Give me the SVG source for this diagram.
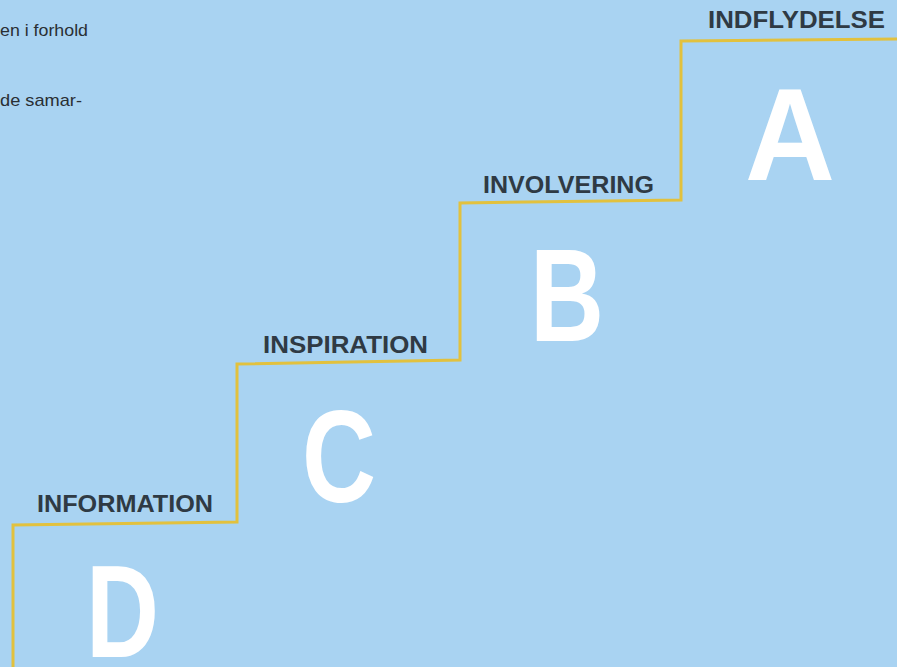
<svg xmlns="http://www.w3.org/2000/svg" width="897" height="667" viewBox="0 0 897 667">
<style>
.bg{fill:#a9d3f2}
.lbl{font-family:"Liberation Sans","DejaVu Sans",sans-serif;font-weight:bold;font-size:24px;fill:#2f3a44}
.big{font-family:"Liberation Sans","DejaVu Sans",sans-serif;font-weight:bold;font-size:132px;fill:#ffffff}
.body{font-family:"Liberation Sans","DejaVu Sans",sans-serif;font-size:17px;fill:#2a2f34}
.stair{fill:none;stroke:#e2c13e;stroke-width:3}
</style>
<rect class="bg" x="0" y="0" width="897" height="667"/>
<g id="bodytext">
<text class="body" x="0" y="36" textLength="88" lengthAdjust="spacingAndGlyphs">en i forhold</text>
<text class="body" x="0" y="106" textLength="82" lengthAdjust="spacingAndGlyphs">de samar-</text>
</g>
<g id="connectors">
<polyline class="stair" points="13,667 13,525 237,522 237,364 460,360 460,203 681,200 681,41 897,39"/>
</g>
<g id="step-d">
<text class="lbl" x="37" y="512" textLength="176" lengthAdjust="spacingAndGlyphs">INFORMATION</text>
<text class="big" x="86" y="657" textLength="73" lengthAdjust="spacingAndGlyphs">D</text>
</g>
<g id="step-c">
<text class="lbl" x="263" y="353" textLength="165" lengthAdjust="spacingAndGlyphs">INSPIRATION</text>
<text class="big" x="302" y="502" textLength="74" lengthAdjust="spacingAndGlyphs">C</text>
</g>
<g id="step-b">
<text class="lbl" x="483" y="193" textLength="171" lengthAdjust="spacingAndGlyphs">INVOLVERING</text>
<text class="big" x="530" y="341" textLength="74" lengthAdjust="spacingAndGlyphs">B</text>
</g>
<g id="step-a">
<text class="lbl" x="708" y="28" textLength="177" lengthAdjust="spacingAndGlyphs">INDFLYDELSE</text>
<text class="big" x="745" y="180" textLength="90" lengthAdjust="spacingAndGlyphs">A</text>
</g>
</svg>
